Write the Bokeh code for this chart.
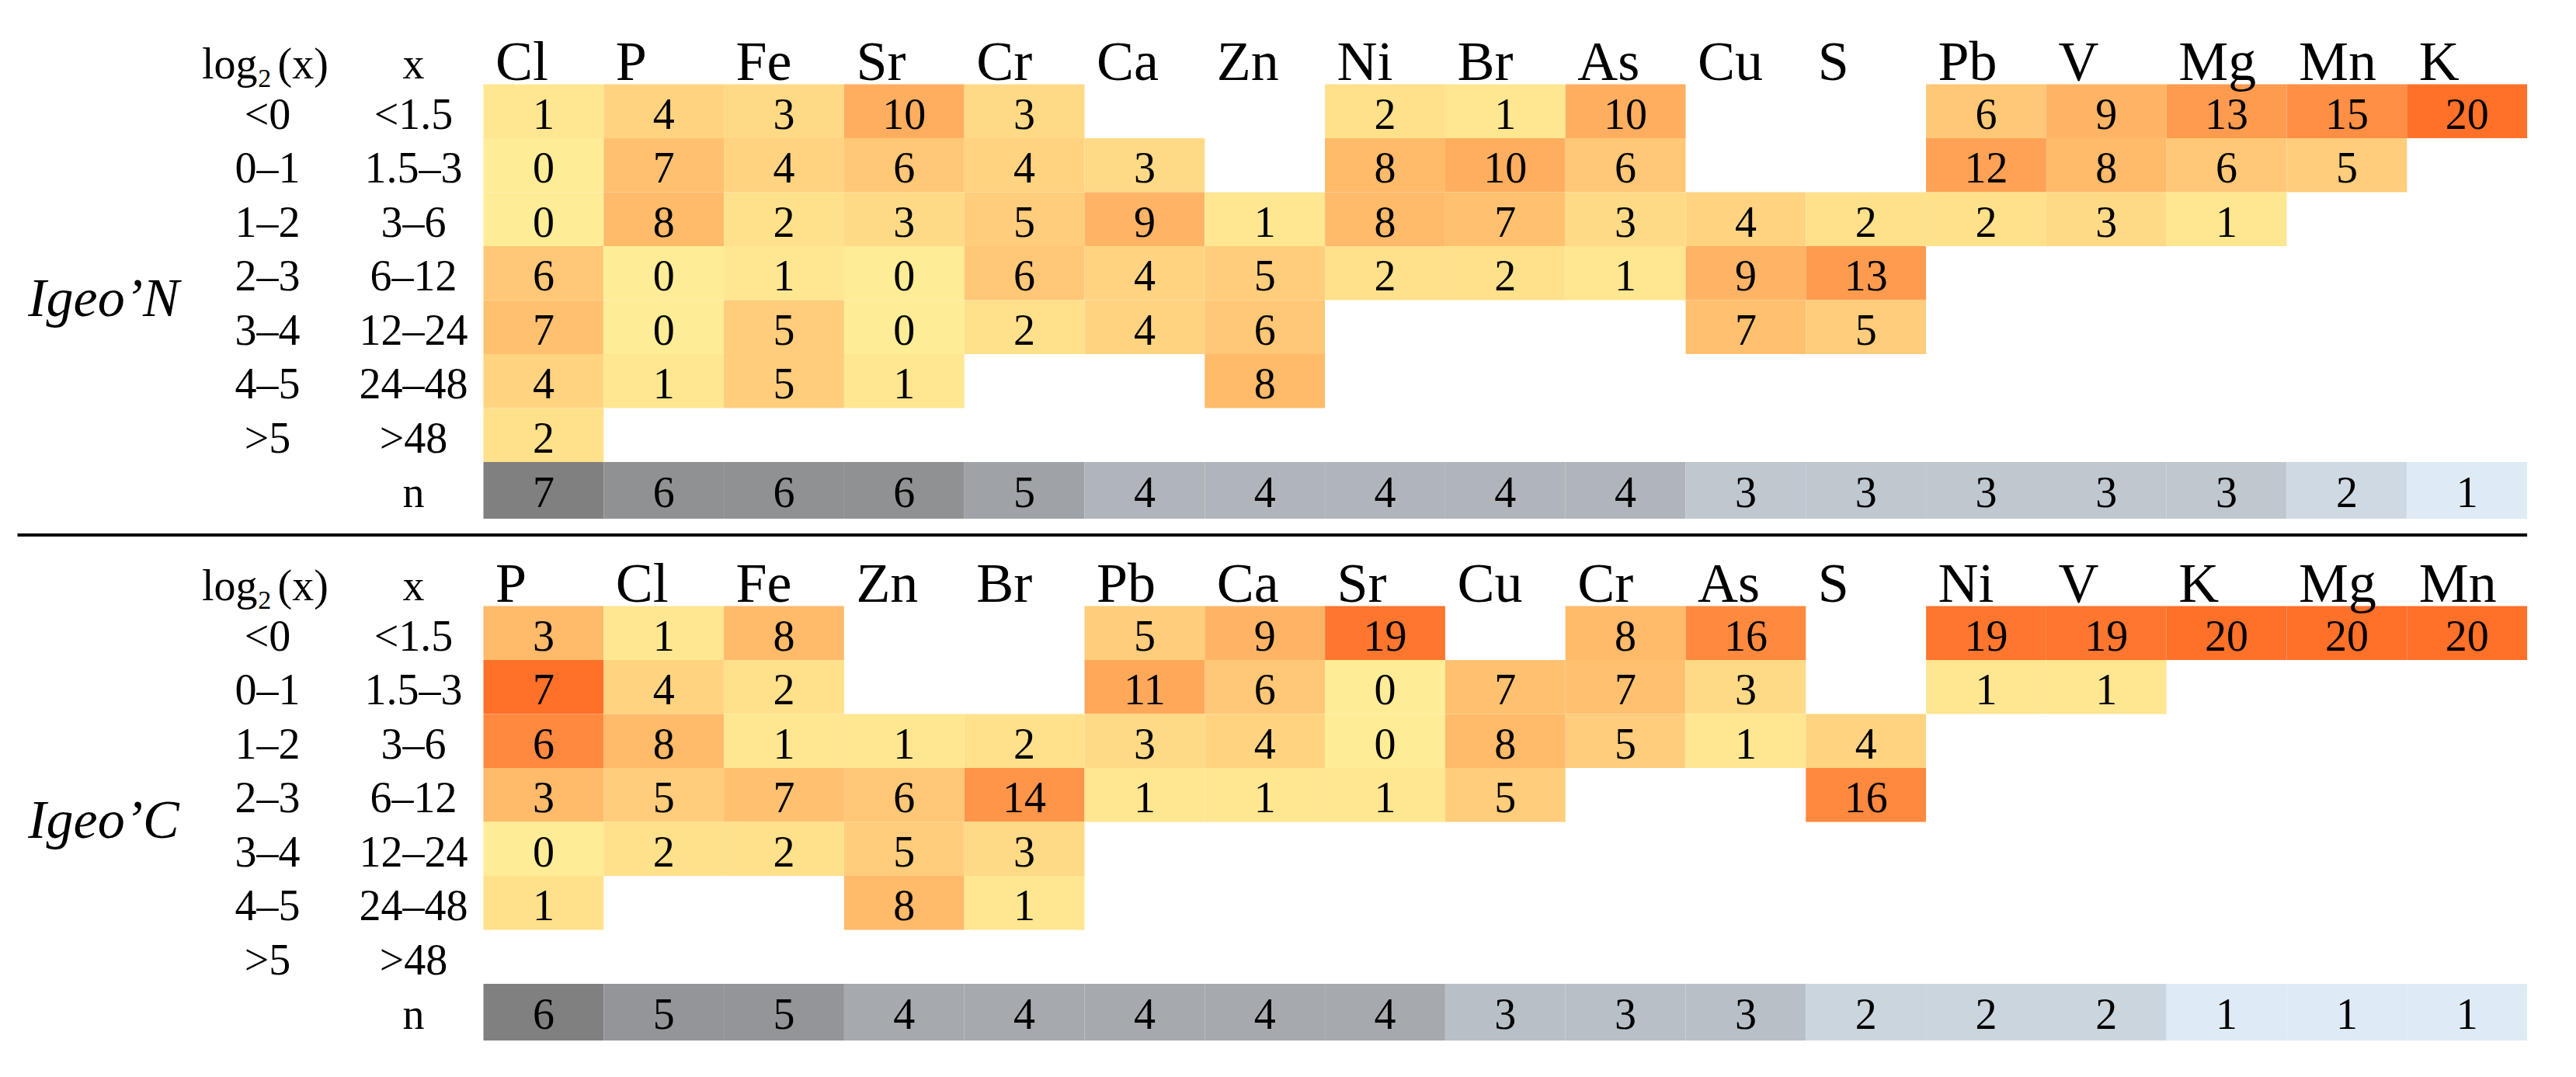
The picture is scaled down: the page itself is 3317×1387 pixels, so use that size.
from bokeh.plotting import figure
from bokeh.models import ColumnDataSource, Range1d, LinearColorMapper
from bokeh.transform import transform
from bokeh.core.properties import value
from bokeh.embed import file_html
from bokeh.resources import INLINE

# ---------------- data ----------------
log2_labels = ["<0", "0–1", "1–2", "2–3", "3–4", "4–5", ">5"]
x_labels = ["<1.5", "1.5–3", "3–6", "6–12", "12–24", "24–48", ">48"]

# Igeo'N table
igeo_n_title = "Igeo’N"
igeo_n_elements = ["Cl", "P", "Fe", "Sr", "Cr", "Ca", "Zn", "Ni", "Br", "As", "Cu", "S", "Pb", "V", "Mg", "Mn", "K"]
igeo_n_lt0 = [1, 4, 3, 10, 3, None, None, 2, 1, 10, None, None, 6, 9, 13, 15, 20]
igeo_n_0_1 = [0, 7, 4, 6, 4, 3, None, 8, 10, 6, None, None, 12, 8, 6, 5, None]
igeo_n_1_2 = [0, 8, 2, 3, 5, 9, 1, 8, 7, 3, 4, 2, 2, 3, 1, None, None]
igeo_n_2_3 = [6, 0, 1, 0, 6, 4, 5, 2, 2, 1, 9, 13, None, None, None, None, None]
igeo_n_3_4 = [7, 0, 5, 0, 2, 4, 6, None, None, None, 7, 5, None, None, None, None, None]
igeo_n_4_5 = [4, 1, 5, 1, None, None, 8, None, None, None, None, None, None, None, None, None, None]
igeo_n_gt5 = [2, None, None, None, None, None, None, None, None, None, None, None, None, None, None, None, None]
igeo_n_n = [7, 6, 6, 6, 5, 4, 4, 4, 4, 4, 3, 3, 3, 3, 3, 2, 1]

# Igeo'C table
igeo_c_title = "Igeo’C"
igeo_c_elements = ["P", "Cl", "Fe", "Zn", "Br", "Pb", "Ca", "Sr", "Cu", "Cr", "As", "S", "Ni", "V", "K", "Mg", "Mn"]
igeo_c_lt0 = [3, 1, 8, None, None, 5, 9, 19, None, 8, 16, None, 19, 19, 20, 20, 20]
igeo_c_0_1 = [7, 4, 2, None, None, 11, 6, 0, 7, 7, 3, None, 1, 1, None, None, None]
igeo_c_1_2 = [6, 8, 1, 1, 2, 3, 4, 0, 8, 5, 1, 4, None, None, None, None, None]
igeo_c_2_3 = [3, 5, 7, 6, 14, 1, 1, 1, 5, None, None, 16, None, None, None, None, None]
igeo_c_3_4 = [0, 2, 2, 5, 3, None, None, None, None, None, None, None, None, None, None, None, None]
igeo_c_4_5 = [1, None, None, 8, 1, None, None, None, None, None, None, None, None, None, None, None, None]
igeo_c_gt5 = [None] * 17
igeo_c_n = [6, 5, 5, 4, 4, 4, 4, 4, 3, 3, 3, 2, 2, 2, 1, 1, 1]
# shade intensities for the Igeo'C "P" column (darker than its counts)
igeo_c_p_shade = [8, 20, 16, 8, 0, 2]

# ---------------- layout ----------------
W, H = 3300, 1370
CELL_W, ROW_H = 154.8, 69.5
X0_PX, Y0_PX = 622.0, 108.0
BOTTOM_OFFSET = 9.669
N_ROW_H = 1.05
FONT = value("Liberation Serif")

LOG_COL_X = (344 - 622) / CELL_W
X_COL_X = (532 - 622) / CELL_W
TITLE_X = (133 - 622) / CELL_W


def lerp_palette(c0, c1, n=256):
    out = []
    for i in range(n):
        t = i / (n - 1)
        r, g, b = (round(a + (bb - a) * t) for a, bb in zip(c0, c1))
        out.append("#%02x%02x%02x" % (r, g, b))
    return out


heat_palette = lerp_palette((255, 236, 150), (255, 112, 41))
gray_palette = lerp_palette((222, 234, 246), (128, 128, 128))

p = figure(width=W, height=H, output_backend="svg", toolbar_location=None,
           x_range=Range1d(-X0_PX / CELL_W, (W - X0_PX) / CELL_W),
           y_range=Range1d((H - Y0_PX) / ROW_H, -Y0_PX / ROW_H),
           x_axis_type=None, y_axis_type=None, min_border=0)
p.grid.visible = False
p.outline_line_color = None
p.background_fill_color = "white"
p.border_fill_color = "white"

heat_mapper = LinearColorMapper(palette=heat_palette, low=0, high=20)


def txt(x, y, text, size, align="center", style="normal", src=None):
    kw = dict(text_font=FONT, text_font_size=value(size), text_align=align,
              text_baseline="middle", text_color="black", text_font_style=style)
    if src is not None:
        return p.text(x=x, y=y, text=text, source=src, **kw)
    return p.text(x=x, y=y, text=text, **kw)


def draw_table(title, elements, rows, ns, offset, shade_override=None):
    xs, ys, labels, shades = [], [], [], []
    for r, row in enumerate(rows):
        for c, v in enumerate(row):
            if v is None:
                continue
            s = v
            if shade_override and elements[c] in shade_override:
                s = shade_override[elements[c]][r]
            xs.append(c + 0.5)
            ys.append(offset + r + 0.5)
            labels.append(str(v))
            shades.append(s)
    src = ColumnDataSource(dict(x=xs, y=ys, label=labels, shade=shades,
                                ty=[y + 0.05 for y in ys]))
    p.rect(x="x", y="y", width=1, height=1, source=src,
           fill_color=transform("shade", heat_mapper), line_color=None)
    txt("x", "ty", "label", "56px", src=src)

    # n row
    gray_mapper = LinearColorMapper(palette=gray_palette, low=1, high=max(ns))
    nsrc = ColumnDataSource(dict(x=[c + 0.5 for c in range(len(ns))],
                                 y=[offset + 7 + N_ROW_H / 2] * len(ns),
                                 ty=[offset + 7.56] * len(ns),
                                 n=ns, label=[str(v) for v in ns]))
    p.rect(x="x", y="y", width=1, height=N_ROW_H, source=nsrc,
           fill_color=transform("n", gray_mapper), line_color=None)
    txt("x", "ty", "label", "56px", src=nsrc)

    # element headers
    hsrc = ColumnDataSource(dict(x=[c + 0.1 for c in range(len(elements))],
                                 y=[offset - 0.43] * len(elements), label=elements))
    txt("x", "y", "label", "72px", align="left", src=hsrc)

    # row labels
    rl = ColumnDataSource(dict(
        x1=[LOG_COL_X] * 7, x2=[X_COL_X] * 7,
        y=[offset + r + 0.55 for r in range(7)], l1=log2_labels, l2=x_labels))
    txt("x1", "y", "l1", "56px", src=rl)
    txt("x2", "y", "l2", "56px", src=rl)
    txt([X_COL_X], [offset + 7.56], ["n"], "56px")

    # column headers log2(x) and x
    hy = offset - 0.38
    split_x = (331 - 622) / CELL_W
    txt([split_x], [hy], ["log"], "56px", align="right")
    txt([split_x + 0.005], [offset - 0.11], ["2"], "34px", align="left")
    txt([(357 - 622) / CELL_W], [hy], ["(x)"], "56px", align="left")
    txt([X_COL_X], [hy], ["x"], "56px")

    # table title
    txt([TITLE_X], [offset + 3.96], [title], "70px", style="italic")


draw_table(igeo_n_title, igeo_n_elements,
           [igeo_n_lt0, igeo_n_0_1, igeo_n_1_2, igeo_n_2_3, igeo_n_3_4, igeo_n_4_5, igeo_n_gt5],
           igeo_n_n, 0.0)
draw_table(igeo_c_title, igeo_c_elements,
           [igeo_c_lt0, igeo_c_0_1, igeo_c_1_2, igeo_c_2_3, igeo_c_3_4, igeo_c_4_5, igeo_c_gt5],
           igeo_c_n, BOTTOM_OFFSET, shade_override={"P": igeo_c_p_shade})

# separator line between the two tables
p.segment(x0=[(22 - 622) / CELL_W], y0=[(688.5 - 108) / ROW_H],
          x1=[len(igeo_n_elements)], y1=[(688.5 - 108) / ROW_H],
          line_color="black", line_width=4)

open("out.html", "w").write(file_html(p, INLINE))
